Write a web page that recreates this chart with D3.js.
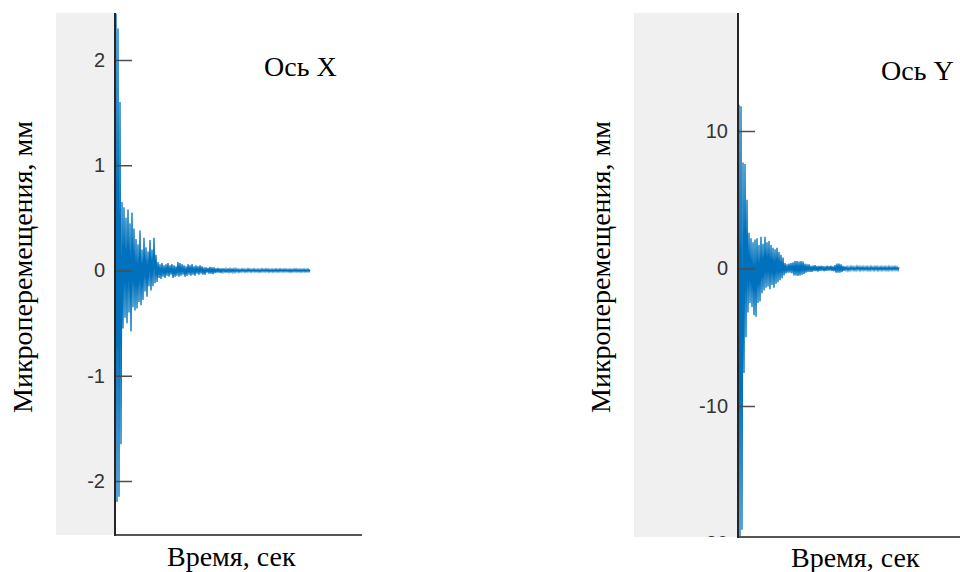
<!DOCTYPE html>
<html lang="ru">

<head>
  <meta charset="UTF-8">
  <title>Микроперемещения</title>
  <style>
    body { margin: 0; background: #fff; }
  </style>
</head>

<body>

  <script src="https://cdn.jsdelivr.net/npm/d3@7/dist/d3.min.js"></script>
  <script>
    var width = 960;   // ширина
    var height = 572;  // высота

    var dt = 0.01;     // шаг по времени, сек

    // ось X, мм (экстремумы колебаний)
    var seriesX = [
      2.44, -2.2, 2.3, -2.15, 1.6, -1.65, 0.65, -0.55, 0.6, -0.45,
      0.5, -0.5, 0.58, -0.4, 0.45, -0.58, 0.55, -0.35, 0.4, -0.38,
      0.3, -0.36, 0.25, -0.3, 0.38, -0.33, 0.2, -0.28, 0.31, -0.2,
      0.22, -0.25, 0.18, -0.15, 0.29, -0.19, 0.2, -0.15, 0.31, -0.12,
      0.15, -0.11,
      0.08, -0.07, 0.06, -0.08, 0.07, -0.06, 0.05, -0.07, 0.06, -0.05,
      0.07, -0.06, 0.05, -0.04, 0.06, -0.07, 0.05, -0.06, 0.04, -0.05,
      0.08, -0.06, 0.07, -0.05, 0.06, -0.04, 0.05, -0.06, 0.04, -0.05,
      0.06, -0.04, 0.05, -0.05, 0.06, -0.04, 0.04, -0.05, 0.05, -0.03,
      0.04, -0.04, 0.05, -0.03, 0.04, -0.04, 0.03, -0.04,
      0.03, -0.02, 0.025, -0.03, 0.035, -0.03, 0.03, -0.035, 0.03, -0.025,
      0.02, -0.02, 0.025, -0.02, 0.02, -0.025, 0.02, -0.015, 0.02, -0.02,
      0.015, -0.02, 0.02, -0.015, 0.015, -0.02, 0.02, -0.015, 0.015, -0.015,
      0.015, -0.012, 0.012, -0.015, 0.01, -0.012, 0.014, -0.01, 0.012, -0.013,
      0.01, -0.012, 0.015, -0.01, 0.012, -0.014, 0.011, -0.01, 0.013, -0.012,
      0.01, -0.011, 0.012, -0.013, 0.01, -0.012, 0.014, -0.01, 0.011, -0.012,
      0.013, -0.01, 0.012, -0.014, 0.01, -0.011, 0.012, -0.013, 0.011, -0.01,
      0.013, -0.012, 0.01, -0.012, 0.014, -0.01, 0.011, -0.012, 0.012, -0.01,
      0.013, -0.011, 0.01, -0.012, 0.012, -0.013, 0.01, -0.011, 0.012, -0.01,
      0.013, -0.012, 0.01, -0.011, 0.012, -0.013, 0.011, -0.01, 0.012, -0.012,
      0.01, -0.011, 0.012, -0.01, 0.01
    ];

    // ось Y, мм
    var seriesY = [
      11.9, -20, 11.8, -19, 7.7, -7.6, 7.6, -5, 5, -3.2, 2.6, -2.5,
      2.2, -2.8, 1.9, -3.4, 2.1, -3.5, 2.2, -2.5, 1.7, -2.4,
      2.3, -1.8, 1.8, -1.6, 2.3, -1.4, 1.9, -1.3, 2.0, -1.5,
      1.7, -1.2, 1.5, -1.4, 1.4, -1.1, 1.5, -1.0, 1.2, -0.85,
      1.0, -0.7, 0.8, -0.5,
      0.4, -0.35, 0.3, -0.3, 0.35, -0.3, 0.4, -0.35, 0.45, -0.5,
      0.55, -0.5, 0.55, -0.55, 0.5, -0.5, 0.55, -0.45, 0.5, -0.4,
      0.35, -0.3, 0.3, -0.25, 0.3,
      -0.25, 0.2, -0.25, 0.22, -0.2, 0.25, -0.2, 0.18, -0.22, 0.2,
      -0.18, 0.2, -0.15, 0.18, -0.2, 0.15, -0.18, 0.2, -0.15, 0.18,
      -0.15, 0.2, -0.18, 0.15, -0.2, 0.25, -0.3, 0.35, -0.3, 0.35,
      -0.3, 0.3, -0.25, 0.2, -0.18,
      0.15, -0.12, 0.12, -0.15, 0.1, -0.12, 0.14, -0.1, 0.12, -0.13,
      0.1, -0.12, 0.15, -0.1, 0.12, -0.14, 0.11, -0.1, 0.13, -0.12,
      0.1, -0.11, 0.12, -0.13, 0.1, -0.12, 0.14, -0.1, 0.11, -0.12,
      0.13, -0.1, 0.12, -0.14, 0.1, -0.11, 0.12, -0.13, 0.11, -0.1,
      0.13, -0.12, 0.1, -0.12, 0.14, -0.1, 0.11, -0.12, 0.12, -0.1,
      0.13, -0.11, 0.1, -0.12, 0.1
    ];

    var ticksX = [-2, -1, 0, 1, 2];
    var ticksY = [-20, -10, 0, 10];
    var titles = ["Ось X", "Ось Y"];
    var xLabel = "Время, сек";
    var yLabel = "Микроперемещения, мм";

    var pxPerSec = 100; // масштаб времени

    var svg = d3.select("body")
      .append("svg")
      .attr("width", width)
      .attr("height", height);

    // раскладка двух графиков
    var panels = [
      {
        data: seriesX, ticks: ticksX, title: titles[0],
        grayLeft: 56, axisX: 115, right: 362, top: 13, bottom: 535,
        yDomain: [-2, 2], yRange: [481, 60],
        titleX: 264, titleY: 76, xLabelX: 167, xLabelY: 566, yLabelX: 32
      },
      {
        data: seriesY, ticks: ticksY, title: titles[1],
        grayLeft: 634, axisX: 738, right: 960, top: 13, bottom: 537,
        yDomain: [-10, 10], yRange: [406, 131],
        titleX: 881, titleY: 80, xLabelX: 791, xLabelY: 567, yLabelX: 610
      }
    ];

    panels.forEach(function (p, k) {
      var g = svg.append("g");

      // серый фон слева от оси
      g.append("rect")
        .attr("x", p.grayLeft)
        .attr("y", p.top)
        .attr("width", p.axisX - p.grayLeft)
        .attr("height", p.bottom - p.top)
        .style("fill", "#f0f0f0");

      var x = d3.scaleLinear()
        .domain([0, (p.right - p.axisX - 1) / pxPerSec])
        .range([p.axisX + 1, p.right]);

      var y = d3.scaleLinear()
        .domain(p.yDomain)
        .range(p.yRange);

      svg.append("clipPath")
        .attr("id", "clip" + k)
        .append("rect")
        .attr("x", p.axisX)
        .attr("y", p.top)
        .attr("width", p.right - p.axisX)
        .attr("height", p.bottom - p.top);

      svg.append("clipPath")
        .attr("id", "clipAxis" + k)
        .append("rect")
        .attr("x", p.grayLeft)
        .attr("y", p.top)
        .attr("width", p.right - p.grayLeft)
        .attr("height", p.bottom - p.top);

      var line = d3.line()
        .x(function (d, i) { return x(i * dt); })
        .y(function (d) { return y(d); });

      g.append("path")
        .datum(p.data)
        .attr("clip-path", "url(#clip" + k + ")")
        .attr("d", line)
        .style("fill", "none")
        .style("stroke", "#0072bd")
        .style("stroke-width", 1.3);

      // ось Y: деления внутрь (обрезка по области графика)
      var axis = g.append("g")
        .attr("clip-path", "url(#clipAxis" + k + ")")
        .append("g")
        .attr("transform", "translate(" + p.axisX + ",0)")
        .call(d3.axisLeft(y)
          .tickValues(p.ticks)
          .tickSizeInner(-17)
          .tickSizeOuter(0)
          .tickPadding(10)
          .tickFormat(function (d) { return String(d); }));

      axis.select(".domain").remove();
      axis.selectAll(".tick line")
        .style("stroke", "#4d4d4d")
        .style("stroke-width", 1.5);
      axis.selectAll(".tick text")
        .style("font-family", "'Liberation Sans', Arial, sans-serif")
        .style("font-size", "20px")
        .style("fill", "#333");

      // линии осей
      g.append("line")
        .attr("x1", p.axisX).attr("x2", p.right)
        .attr("y1", p.bottom).attr("y2", p.bottom)
        .style("stroke", "#555")
        .style("stroke-width", 2);

      g.append("line")
        .attr("x1", p.axisX).attr("x2", p.axisX)
        .attr("y1", p.top).attr("y2", p.bottom + 1)
        .style("stroke", "#262626")
        .style("stroke-width", 2);

      // подписи
      g.append("text")
        .attr("x", p.titleX)
        .attr("y", p.titleY)
        .text(p.title)
        .style("font-family", "'Liberation Serif', 'Times New Roman', serif")
        .style("font-size", "28px")
        .style("fill", "#000");

      g.append("text")
        .attr("x", p.xLabelX)
        .attr("y", p.xLabelY)
        .text(xLabel)
        .style("font-family", "'Liberation Serif', 'Times New Roman', serif")
        .style("font-size", "28px")
        .style("fill", "#000");

      g.append("text")
        .attr("transform", "translate(" + p.yLabelX + ",267) rotate(-90)")
        .attr("text-anchor", "middle")
        .text(yLabel)
        .style("font-family", "'Liberation Serif', 'Times New Roman', serif")
        .style("font-size", "28px")
        .style("fill", "#000");
    });

  </script>
</body>

</html>
